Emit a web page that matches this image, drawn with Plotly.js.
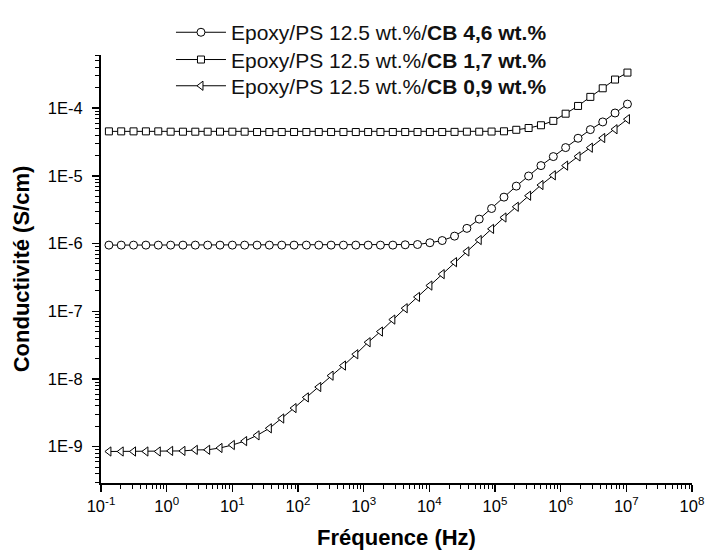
<!DOCTYPE html>
<html>
<head>
<meta charset="utf-8">
<script src="https://cdn.plot.ly/plotly-3.0.1.min.js"></script>
<style>html,body{margin:0;padding:0;background:#fff;}#chart{width:709px;height:556px;}</style>
</head>
<body>
<div id="chart"></div>
<script>
// Frequency (Hz)
const frequency = [0.132, 0.203, 0.313, 0.483, 0.745, 1.15, 1.77, 2.73, 4.21, 6.49,
  10.0, 15.4, 23.8, 36.6, 56.5, 87.1, 134, 207, 319, 492,
  759, 1170, 1800, 2780, 4290, 6610, 10200, 15700, 24200, 37300,
  57500, 88700, 137000, 211000, 325000, 501000, 773000, 1190000, 1840000, 2830000,
  4370000, 6730000, 10400000];

// Conductivity (S/cm)
const cb46 = [9.5e-7, 9.5e-7, 9.5e-7, 9.5e-7, 9.5e-7, 9.5e-7, 9.5e-7, 9.5e-7, 9.5e-7, 9.5e-7,
  9.5e-7, 9.5e-7, 9.5e-7, 9.5e-7, 9.5e-7, 9.5e-7, 9.5e-7, 9.5e-7, 9.5e-7, 9.5e-7,
  9.5e-7, 9.5e-7, 9.5e-7, 9.5e-7, 9.6e-7, 9.7e-7, 1.03e-6, 1.11e-6, 1.29e-6, 1.68e-6,
  2.30e-6, 3.30e-6, 4.86e-6, 7.07e-6, 9.97e-6, 1.42e-5, 1.93e-5, 2.62e-5, 3.60e-5, 4.83e-5,
  6.27e-5, 8.5e-5, 1.15e-4];

const cb17 = [4.55e-5, 4.55e-5, 4.55e-5, 4.55e-5, 4.55e-5, 4.5e-5, 4.5e-5, 4.5e-5, 4.5e-5, 4.5e-5,
  4.5e-5, 4.5e-5, 4.45e-5, 4.45e-5, 4.45e-5, 4.45e-5, 4.45e-5, 4.45e-5, 4.45e-5, 4.45e-5,
  4.45e-5, 4.45e-5, 4.45e-5, 4.45e-5, 4.45e-5, 4.45e-5, 4.45e-5, 4.45e-5, 4.47e-5, 4.5e-5,
  4.5e-5, 4.52e-5, 4.56e-5, 4.8e-5, 5.1e-5, 5.6e-5, 6.5e-5, 8.3e-5, 1.08e-4, 1.47e-4,
  1.97e-4, 2.65e-4, 3.36e-4];

const cb09 = [8.5e-10, 8.5e-10, 8.5e-10, 8.5e-10, 8.5e-10, 8.67e-10, 8.67e-10, 8.97e-10, 9.0e-10, 9.58e-10,
  1.06e-9, 1.21e-9, 1.47e-9, 1.87e-9, 2.61e-9, 3.72e-9, 5.35e-9, 7.62e-9, 1.12e-8, 1.58e-8,
  2.32e-8, 3.49e-8, 5.02e-8, 7.55e-8, 1.11e-7, 1.63e-7, 2.40e-7, 3.54e-7, 5.32e-7, 7.66e-7,
  1.13e-6, 1.65e-6, 2.43e-6, 3.50e-6, 5.10e-6, 7.33e-6, 1.02e-5, 1.42e-5, 1.94e-5, 2.61e-5,
  3.63e-5, 4.89e-5, 6.89e-5];

const seriesNames = [
  'Epoxy/PS 12.5 wt.%/<b>CB 4,6 wt.%</b>',
  'Epoxy/PS 12.5 wt.%/<b>CB 1,7 wt.%</b>',
  'Epoxy/PS 12.5 wt.%/<b>CB 0,9 wt.%</b>'
];

const xTickVals = [0.1, 1, 10, 100, 1e3, 1e4, 1e5, 1e6, 1e7, 1e8];
const xTickText = ['10<sup>-1</sup>', '10<sup>0</sup>', '10<sup>1</sup>', '10<sup>2</sup>', '10<sup>3</sup>',
  '10<sup>4</sup>', '10<sup>5</sup>', '10<sup>6</sup>', '10<sup>7</sup>', '10<sup>8</sup>'];
const yTickVals = [1e-9, 1e-8, 1e-7, 1e-6, 1e-5, 1e-4];
const yTickText = ['1E-9', '1E-8', '1E-7', '1E-6', '1E-5', '1E-4'];

function minorVals(e0, e1) {
  const v = [];
  for (let e = e0; e <= e1; e++) for (let d = 2; d <= 9; d++) v.push(d * Math.pow(10, e));
  return v;
}

const FONT = 'Liberation Sans, Arial, sans-serif';
const lineStyle = {color: '#000', width: 1};

function mk(y, name, symbol, size, legendId) {
  return {
    x: frequency, y: y, name: name, type: 'scatter', mode: 'lines+markers',
    line: lineStyle, legend: legendId,
    marker: {symbol: symbol, size: size, color: '#fff', line: {color: '#000', width: 1}}
  };
}

const data = [
  mk(cb46, seriesNames[0], 'circle', 8, 'legend'),
  mk(cb17, seriesNames[1], 'square', 7, 'legend2'),
  mk(cb09, seriesNames[2], 'triangle-left', 8, 'legend3')
];

function leg(y) {
  return {
    x: 0.1184, y: y, xanchor: 'left', yanchor: 'middle',
    font: {family: FONT, size: 21, color: '#111'},
    bgcolor: 'rgba(0,0,0,0)', itemwidth: 50, borderwidth: 0
  };
}

const layout = {
  width: 709, height: 556,
  margin: {l: 101, r: 17, t: 43, b: 73},
  paper_bgcolor: '#fff', plot_bgcolor: '#fff',
  font: {family: FONT, color: '#000', size: 16},
  showlegend: true,
  legend: leg(1.0523),
  legend2: leg(0.9886),
  legend3: leg(0.9273),
  xaxis: {
    type: 'log', range: [-1, 8],
    tickmode: 'array', tickvals: xTickVals, ticktext: xTickText,
    ticks: 'outside', ticklen: 7, tickwidth: 1.5, tickcolor: '#000',
    showline: true, linecolor: '#000', linewidth: 2, mirror: false,
    showgrid: false, zeroline: false,
    tickfont: {family: FONT, size: 16.5, color: '#000'},
    minor: {tickmode: 'array', tickvals: minorVals(-1, 7), ticks: 'outside', ticklen: 4, tickwidth: 1, tickcolor: '#000', showgrid: false},
    title: {text: '<b>Fréquence (Hz)</b>', font: {family: FONT, size: 22, color: '#000'}, standoff: 16}
  },
  yaxis: {
    type: 'log', range: [-9.536, -3.214],
    tickmode: 'array', tickvals: yTickVals, ticktext: yTickText,
    ticks: 'outside', ticklen: 7, tickwidth: 1.5, tickcolor: '#000',
    ticklabelstandoff: 6,
    showline: true, linecolor: '#000', linewidth: 2, mirror: false,
    showgrid: false, zeroline: false,
    tickfont: {family: FONT, size: 16.5, color: '#000'},
    minor: {tickmode: 'array', tickvals: minorVals(-10, -4), ticks: 'outside', ticklen: 4, tickwidth: 1, tickcolor: '#000', showgrid: false},
    title: {text: '<b>Conductivité (S/cm)</b>', font: {family: FONT, size: 22, color: '#000'}, standoff: 12}
  }
};

Plotly.newPlot('chart', data, layout, {displayModeBar: false, staticPlot: true});
</script>
</body>
</html>
